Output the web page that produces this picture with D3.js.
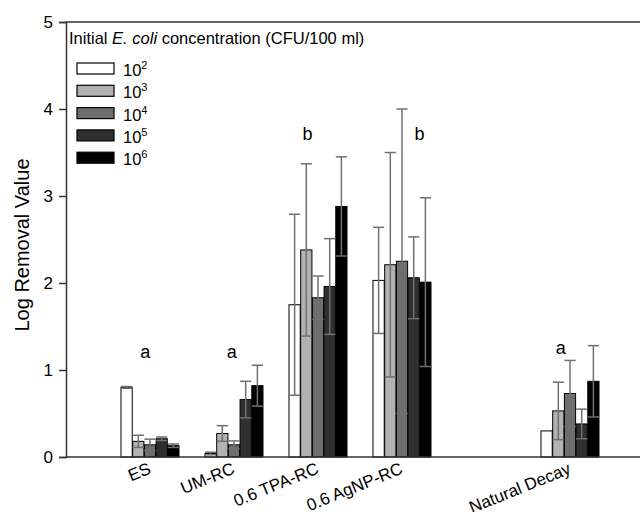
<!DOCTYPE html>
<html>
<head>
<meta charset="utf-8">
<script src="https://cdn.jsdelivr.net/npm/d3@7"></script>
<style>
  body { margin: 0; background: #fff; }
  svg { font-family: "Liberation Sans", Arial, sans-serif; }
</style>
</head>
<body>
<div id="chart"></div>
<script>
// categories on the x axis ("" is the empty slot before Natural Decay)
var slots = ["ES", "UM-RC", "0.6 TPA-RC", "0.6 AgNP-RC", "", "Natural Decay"];
var groups = ["ES", "UM-RC", "0.6 TPA-RC", "0.6 AgNP-RC", "Natural Decay"];
var seriesNames = ["2", "3", "4", "5", "6"]; // exponent of 10 (CFU/100 ml)

// mean log removal value per series
var m2 = [0.80, 0.04, 1.75, 2.03, 0.30];
var m3 = [0.18, 0.27, 2.38, 2.21, 0.53];
var m4 = [0.14, 0.14, 1.83, 2.25, 0.73];
var m5 = [0.21, 0.66, 1.96, 2.06, 0.38];
var m6 = [0.13, 0.82, 2.88, 2.01, 0.87];

// error (+/-) per series
var e2 = [0.01, 0.015, 1.04, 0.61, 0];
var e3 = [0.07, 0.09, 0.99, 1.29, 0.33];
var e4 = [0.065, 0.045, 0.25, 1.75, 0.38];
var e5 = [0.02, 0.21, 0.55, 0.47, 0.17];
var e6 = [0.02, 0.235, 0.57, 0.97, 0.41];

// significance letters
var letters = ["a", "a", "b", "b", "a"];
var letterLevel = [1.21, 1.21, 3.72, 3.72, 1.26];
var letterShift = [-0.4, -0.2, -0.9, 1.5, -0.8]; // in bar widths

var yTicks = [0, 1, 2, 3, 4, 5];

var means = [m2, m3, m4, m5, m6];
var errs = [e2, e3, e4, e5, e6];
var fills = ["#ffffff", "#b2b2b2", "#6e6e6e", "#2f2f2f", "#000000"];

var W = 640, H = 512;
var margin = {top: 22, left: 66, bottom: 55};

var svg = d3.select("#chart").append("svg")
  .attr("width", W).attr("height", H);

var x = d3.scaleBand()
  .domain(slots)
  .range([margin.left, margin.left + 588])
  .paddingInner(0)
  .paddingOuter(0.5);

var xs = d3.scaleBand()
  .domain(seriesNames)
  .range([-29, 29])
  .paddingInner(0.04);

var y = d3.scaleLinear()
  .domain([0, 5])
  .range([H - margin.bottom, margin.top]);

// top frame line
svg.append("line")
  .attr("x1", margin.left).attr("x2", W)
  .attr("y1", y(5)).attr("y2", y(5))
  .attr("stroke", "#333").attr("stroke-width", 1.5);

// bars
var data = [];
groups.forEach(function(g, gi) {
  seriesNames.forEach(function(s, si) {
    data.push({group: g, series: s, si: si, gi: gi, v: means[si][gi], e: errs[si][gi]});
  });
});

var cx = function(d) { return x(d.group) + x.bandwidth() / 2 + xs(d.series); };

svg.selectAll(".bar").data(data).enter().append("rect")
  .attr("class", "bar")
  .attr("x", cx)
  .attr("y", function(d) { return y(d.v); })
  .attr("width", xs.bandwidth())
  .attr("height", function(d) { return y(0) - y(d.v); })
  .attr("fill", function(d) { return fills[d.si]; })
  .attr("stroke", "#000").attr("stroke-width", 1);

// error bars
var eb = svg.selectAll(".err").data(data.filter(function(d) { return d.e > 0; }))
  .enter().append("g").attr("class", "err")
  .attr("stroke", "#707070").attr("stroke-width", 1.5);
eb.append("line")
  .attr("x1", function(d) { return cx(d) + xs.bandwidth() / 2; })
  .attr("x2", function(d) { return cx(d) + xs.bandwidth() / 2; })
  .attr("y1", function(d) { return y(d.v + d.e); })
  .attr("y2", function(d) { return y(Math.max(0, d.v - d.e)); });
eb.append("line")
  .attr("x1", cx)
  .attr("x2", function(d) { return cx(d) + xs.bandwidth(); })
  .attr("y1", function(d) { return y(d.v + d.e); })
  .attr("y2", function(d) { return y(d.v + d.e); });
eb.append("line")
  .attr("x1", cx)
  .attr("x2", function(d) { return cx(d) + xs.bandwidth(); })
  .attr("y1", function(d) { return y(Math.max(0, d.v - d.e)); })
  .attr("y2", function(d) { return y(Math.max(0, d.v - d.e)); });

// letters
svg.selectAll(".letter").data(groups).enter().append("text")
  .attr("class", "letter")
  .attr("x", function(g, i) { return x(g) + x.bandwidth() / 2 + letterShift[i] * xs.step(); })
  .attr("y", function(g, i) { return y(letterLevel[i]); })
  .attr("dy", "0.35em")
  .attr("text-anchor", "middle")
  .attr("font-size", 18)
  .text(function(g, i) { return letters[i]; });

// y axis
var yAxis = svg.append("g")
  .attr("transform", "translate(" + margin.left + ",0)")
  .call(d3.axisLeft(y).tickValues(yTicks).tickSize(7).tickPadding(6).tickFormat(d3.format("d")));
yAxis.selectAll("text").attr("font-size", 17).attr("fill", "#000").attr("font-family", null);
yAxis.select(".domain").attr("stroke", "#333").attr("stroke-width", 1.5);
yAxis.selectAll(".tick line").attr("stroke", "#333").attr("stroke-width", 1.5);

// x axis
var xAxis = svg.append("g")
  .attr("transform", "translate(0," + y(0) + ")")
  .call(d3.axisBottom(x).tickSize(0).tickPadding(0).tickSizeOuter(0));
xAxis.select(".domain").attr("stroke", "#333").attr("stroke-width", 1.5)
  .attr("d", "M" + margin.left + ",0H" + W);
xAxis.selectAll("text")
  .attr("font-size", 17).attr("fill", "#000").attr("font-family", null)
  .attr("text-anchor", "end")
  .attr("y", 0).attr("dy", 0)
  .attr("transform", "translate(2,16) rotate(-22)");

// y title
svg.append("text")
  .attr("transform", "translate(29," + 245 + ") rotate(-90)")
  .attr("text-anchor", "middle")
  .attr("font-size", 20)
  .text("Log Removal Value");

// legend
var lg = svg.append("g");
var lt = lg.append("text").attr("x", 69).attr("y", 44).attr("font-size", 16.5);
lt.append("tspan").text("Initial ");
lt.append("tspan").attr("font-style", "italic").text("E. coli");
lt.append("tspan").text(" concentration (CFU/100 ml)");

var rows = lg.selectAll(".row").data(seriesNames).enter().append("g")
  .attr("transform", function(d, i) { return "translate(77," + (63 + i * 22.3) + ")"; });
rows.append("rect")
  .attr("width", 37).attr("height", 11)
  .attr("fill", function(d, i) { return fills[i]; })
  .attr("stroke", "#000").attr("stroke-width", 1.2);
var rt = rows.append("text").attr("x", 46).attr("y", 13).attr("font-size", 16.5);
rt.append("tspan").text("10");
rt.append("tspan").attr("dy", -7).attr("font-size", 11).text(function(d) { return d; });
</script>
</body>
</html>
